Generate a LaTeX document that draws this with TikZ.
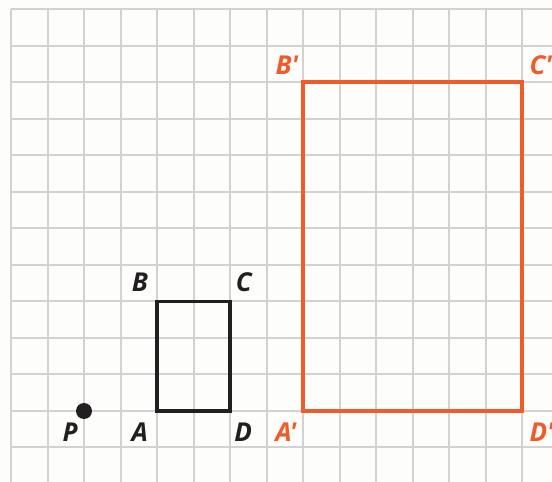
\documentclass[tikz,border=0pt]{standalone}
\usepackage{fontspec}
\newfontfamily\labfont{Open Sans}[BoldItalicFont={Open Sans Bold Italic}]
\definecolor{gridgray}{HTML}{D2D2D2}
\definecolor{imgorange}{HTML}{F15A29}
\definecolor{inkblack}{HTML}{231F20}
\definecolor{paper}{HTML}{FDFDFB}
\tikzset{
  gridline/.style={draw=gridgray, line width=2pt},
  lab/.style={font=\labfont\bfseries\itshape\fontsize{26}{26}\selectfont, inner sep=0pt},
  origshape/.style={draw=inkblack, line width=3.4pt, line join=miter},
  imgshape/.style={draw=imgorange, line width=4pt, line join=miter},
}
\begin{document}
\begin{tikzpicture}[x=36.5pt,y=36.5pt]
\useasboundingbox (-2.3014,-1.9452) rectangle (12.8219,11.2603);
\fill[paper] (-2.3014,-1.9452) rectangle (12.8219,11.2603);
\begin{scope}
\clip (-2.3014,-1.9452) rectangle (12.8219,11.2603);
\foreach \i in {-2,...,13} \draw[gridline] (\i,-2.2) -- (\i,11);
\foreach \j in {-2,...,11} \draw[gridline] (-2,\j) -- (13.2,\j);
\coordinate (P) at (0,0);
\coordinate (A) at (2,0);
\coordinate (B) at (2,3);
\coordinate (C) at (4,3);
\coordinate (D) at (4,0);
\coordinate (A1) at (6,0);
\coordinate (B1) at (6,9);
\coordinate (C1) at (12,9);
\coordinate (D1) at (12,0);
\draw[origshape] (A) -- (B) -- (C) -- (D) -- cycle;
\draw[imgshape] (A1) -- (B1) -- (C1) -- (D1) -- cycle;
\fill[inkblack] (P) circle (8pt);
\node[lab, text=inkblack] (lP) at (-0.38,-0.58) {P};
\node[lab, text=inkblack] (lA) at (1.53,-0.58) {A};
\node[lab, text=inkblack] (lD) at (4.36,-0.58) {D};
\node[lab, text=inkblack] (lB) at (1.53,3.52) {B};
\node[lab, text=inkblack] (lC) at (4.38,3.52) {C};
\node[lab, text=imgorange] (lA1) at (5.53,-0.58) {A'};
\node[lab, text=imgorange] (lB1) at (5.56,9.47) {B'};
\node[lab, text=imgorange, anchor=west] (lC1) at (12.2,9.47) {C'};
\node[lab, text=imgorange, anchor=west] (lD1) at (12.2,-0.58) {D'};
\end{scope}
\end{tikzpicture}
\end{document}
